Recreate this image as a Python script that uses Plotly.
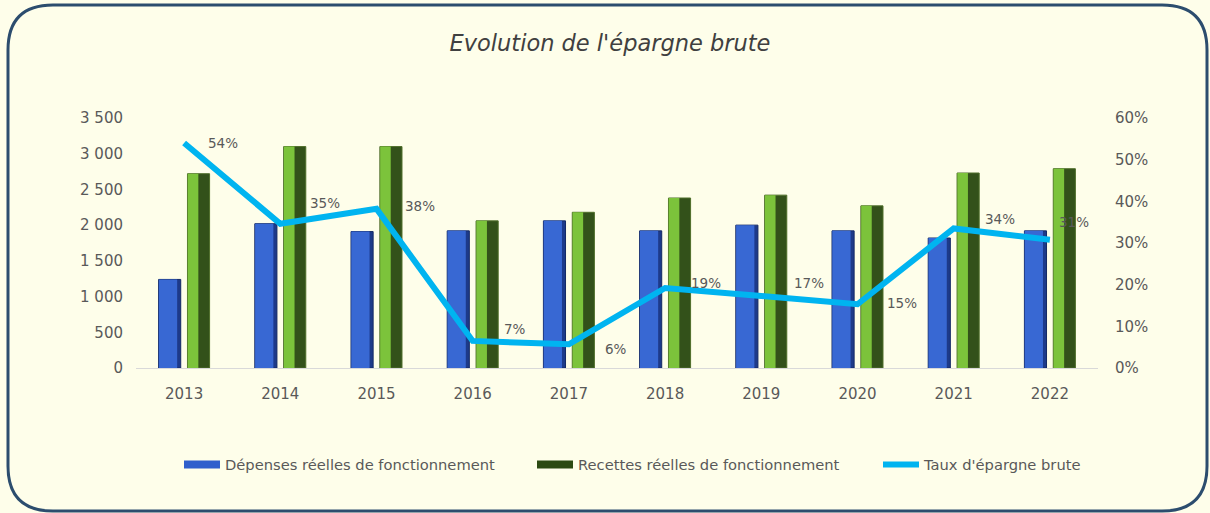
import plotly.graph_objects as go

years = ["2013", "2014", "2015", "2016", "2017", "2018", "2019", "2020", "2021", "2022"]
depenses = [1240, 2020, 1910, 1920, 2060, 1920, 2000, 1920, 1820, 1920]
recettes = [2720, 3100, 3100, 2060, 2180, 2380, 2420, 2270, 2730, 2790]
taux = [0.54, 0.346, 0.382, 0.065, 0.057, 0.192, 0.173, 0.153, 0.335, 0.308]
taux_labels = ["54%", "35%", "38%", "7%", "6%", "19%", "17%", "15%", "34%", "31%"]

# label offsets in px (style only)
lab_dx = [22, 28, 26, 29, 34, 24, 31, 27, 29, 7]
lab_dy = [0, 21, 3, 12, -5, 5, 13, 1, 9, 18]

W, H = 1210, 513
L, R, T, B = 136, 112, 118, 145
PX0, PX1, PY0, PY1 = L, W - R, H - B, T

def px(x):
    return (x - PX0) / (PX1 - PX0)

def py(y):
    return (PY0 - y) / (PY0 - PY1)

BG = "#fefeea"
FONT = "DejaVu Sans"
GRAY = "#595959"

fig = go.Figure()

# Dépenses: dark base + lighter face
fig.add_bar(x=years, y=depenses, showlegend=False,
            marker=dict(color="#1d3a8a", line=dict(color="#142a66", width=1)),
            width=0.23, offset=-0.265, hoverinfo="y")
fig.add_bar(x=years, y=depenses, showlegend=False,
            marker=dict(color="#3868d3", line=dict(width=0)),
            width=0.19, offset=-0.262, hoverinfo="skip")
# Recettes: dark base + light-green face
fig.add_bar(x=years, y=recettes, showlegend=False,
            marker=dict(color="#33511a", line=dict(color="#4f6e2a", width=1)),
            width=0.23, offset=0.035, hoverinfo="y")
fig.add_bar(x=years, y=recettes, showlegend=False,
            marker=dict(color="#7cc33b", line=dict(width=0)),
            width=0.11, offset=0.038, hoverinfo="skip")

fig.add_scatter(x=years, y=taux, yaxis="y2", mode="lines",
                name="Taux d'épargne brute", showlegend=False,
                line=dict(color="#00b4f0", width=6), cliponaxis=False)

# legend entries
fig.add_scatter(x=[None], y=[None], mode="lines", name="Dépenses réelles de fonctionnement",
                line=dict(color="#2f5fcc", width=8), legend="legend")
fig.add_scatter(x=[None], y=[None], mode="lines", name="Recettes réelles de fonctionnement",
                line=dict(color="#2c4a12", width=8), legend="legend2")
fig.add_scatter(x=[None], y=[None], mode="lines", name="Taux d'épargne brute",
                line=dict(color="#00b4f0", width=6), legend="legend3")

for i, (v, t, dx, dy) in enumerate(zip(taux, taux_labels, lab_dx, lab_dy)):
    fig.add_annotation(x=i, y=v, xref="x", yref="y2", text=t, showarrow=False,
                       xanchor="left", yanchor="middle", xshift=dx, yshift=dy,
                       font=dict(family=FONT, size=13.5, color=GRAY))

# rounded border
x0, y0, x1, y1, r = 8, 5, 1207, 511, 45
path = (f"M {px(x0)},{py(y0 + r)} Q {px(x0)},{py(y0)} {px(x0 + r)},{py(y0)} "
        f"L {px(x1 - r)},{py(y0)} Q {px(x1)},{py(y0)} {px(x1)},{py(y0 + r)} "
        f"L {px(x1)},{py(y1 - r)} Q {px(x1)},{py(y1)} {px(x1 - r)},{py(y1)} "
        f"L {px(x0 + r)},{py(y1)} Q {px(x0)},{py(y1)} {px(x0)},{py(y1 - r)} Z")
fig.add_shape(type="path", path=path, xref="paper", yref="paper",
              line=dict(color="#2c4d6e", width=3), layer="below")

leg_common = dict(orientation="h", yanchor="middle", xanchor="left",
                  font=dict(family=FONT, size=14.7, color=GRAY), bgcolor="rgba(0,0,0,0)",
                  itemwidth=36, y=py(465))

fig.update_layout(
    width=W, height=H,
    margin=dict(l=L, r=R, t=T, b=B),
    paper_bgcolor=BG, plot_bgcolor=BG,
    separators=", ",
    barmode="overlay",
    title=dict(text="<i>Evolution de l'épargne brute</i>", x=610 / W, xanchor="center",
               y=1 - 43 / H, yanchor="middle",
               font=dict(family=FONT, size=22.5, color="#404040")),
    xaxis=dict(type="category", range=[-0.5, 9.5], showgrid=False,
               showline=True, linecolor="#d9d9d9", linewidth=1,
               ticks="", tickfont=dict(family=FONT, size=15, color=GRAY),
               ticklabelstandoff=12),
    yaxis=dict(range=[0, 3500], dtick=500, tickformat=",d", showgrid=False,
               zeroline=False, tickfont=dict(family=FONT, size=15, color=GRAY),
               ticklabelstandoff=12),
    yaxis2=dict(range=[0, 0.6], dtick=0.1, tickformat=".0%", overlaying="y", side="right",
                showgrid=False, zeroline=False,
                tickfont=dict(family=FONT, size=15, color=GRAY), ticklabelstandoff=16),
    legend=dict(**leg_common, x=px(179)),
    legend2=dict(**leg_common, x=px(532)),
    legend3=dict(**leg_common, x=px(878)),
    showlegend=True,
)

fig.write_html("out.html", config={"displayModeBar": False},
               post_script="document.body.style.margin='0';document.body.style.overflow='hidden';")
